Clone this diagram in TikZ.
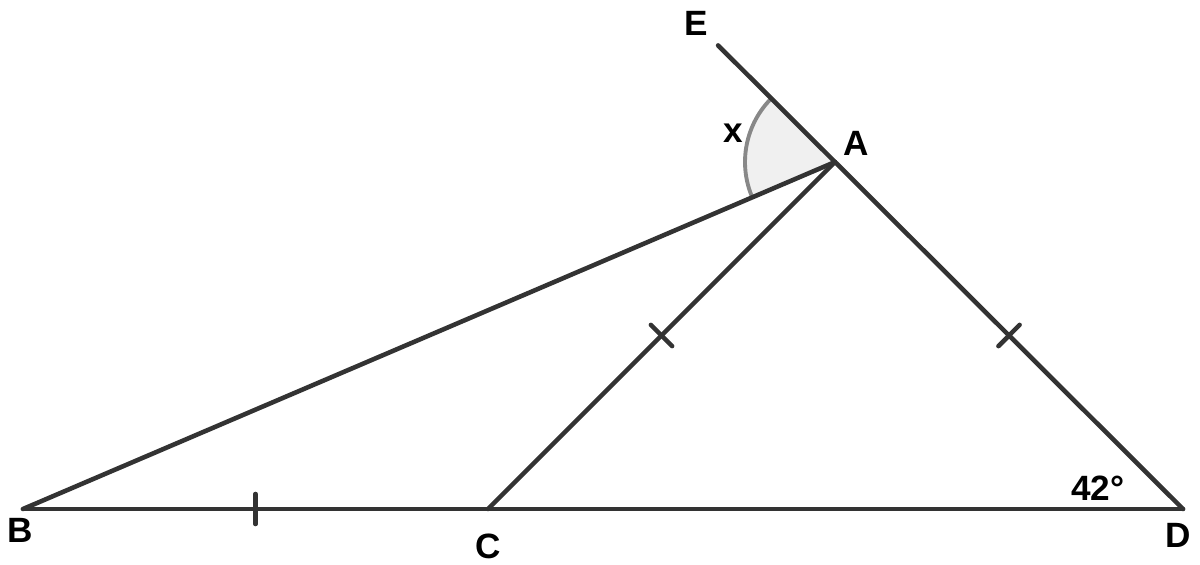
\documentclass[tikz,border=0pt]{standalone}
\usepackage{fontspec}
\setmainfont{Liberation Sans}
\usetikzlibrary{positioning,calc}
\definecolor{pline}{RGB}{51,51,51}
\definecolor{parc}{RGB}{136,136,136}
\definecolor{pfill}{RGB}{240,240,240}
\tikzset{
    side/.style={draw=pline, line width=2.6pt, line cap=round},
    tick/.style={draw=pline, line width=2.6pt, line cap=round},
    lbl/.style={inner sep=0pt, font=\fontsize{20}{22}\selectfont\bfseries},
}

\begin{document}
\begin{tikzpicture}
    \useasboundingbox (0,0) rectangle (24,11.28);

    \coordinate (B) at (0.46,1.10);
    \coordinate (C) at (9.76,1.10);
    \coordinate (D) at (23.66,1.10);
    \coordinate (A) at (16.70,8.04);
    \coordinate (E) at ($(A)!-0.336!(D)$);

    % angle x
    \fill[pfill] (A) -- ++(134.9:1.8) arc[start angle=134.9, end angle=203.1, radius=1.8] -- cycle;
    \draw[parc, line width=2.2pt] ($(A)+(134.9:1.8)$) arc[start angle=134.9, end angle=203.1, radius=1.8];

    \draw[side] (B) -- (D);
    \draw[side] (B) -- (A);
    \draw[side] (C) -- (A);
    \draw[side] (E) -- (D);

    % equal sides
    \coordinate (mBC) at ($(B)!0.5!(C)$);
    \coordinate (mCA) at ($(C)!0.5!(A)$);
    \coordinate (mAD) at ($(A)!0.5!(D)$);
    \draw[tick] ($(mBC)!0.3cm!90:(C)$) -- ($(mBC)!0.3cm!-90:(C)$);
    \draw[tick] ($(mCA)!0.3cm!90:(A)$) -- ($(mCA)!0.3cm!-90:(A)$);
    \draw[tick] ($(mAD)!0.3cm!90:(D)$) -- ($(mAD)!0.3cm!-90:(D)$);

    \node[lbl, below=0.17cm of B, xshift=-0.06cm] (labelB) {B};
    \node[lbl, below=0.49cm of C] (labelC) {C};
    \node[lbl, below=0.27cm of D, xshift=-0.1cm] (labelD) {D};
    \node[lbl, above right=0.13cm and 0.16cm of A] (labelA) {A};
    \node[lbl, above left=0.19cm and 0.2cm of E] (labelE) {E};
    \node[lbl] (labelX) at ($(A)+(-2.04,0.58)$) {x};
    \node[lbl] (labelAngle) at ($(D)+(-1.7,0.42)$) {42°};
\end{tikzpicture}
\end{document}
